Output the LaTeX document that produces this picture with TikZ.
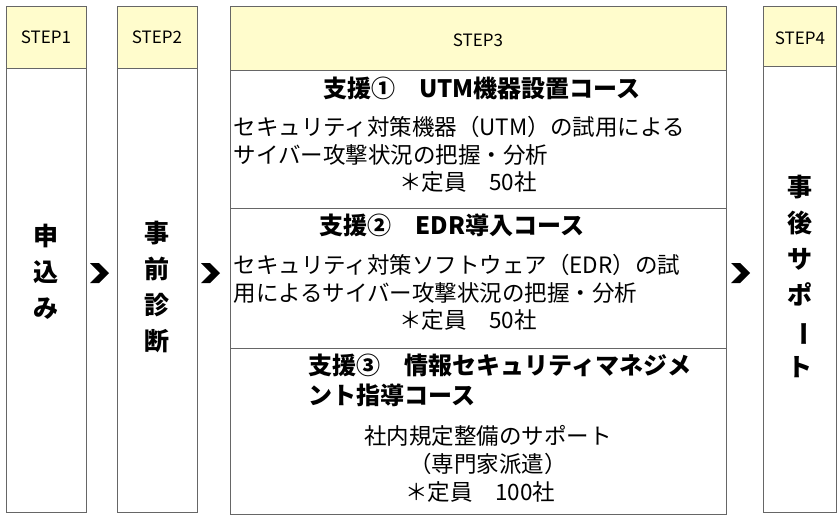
\documentclass[tikz,border=0pt]{standalone}
\usepackage{fontspec}
\usepackage{graphicx}
\setmainfont{Noto Sans CJK JP}
\begin{document}
\begin{tikzpicture}[x=1pt,y=-1pt,
  hdr/.style={draw=gray!80!black,fill=yellow!20,line width=0.8pt},
  bodybox/.style={draw=gray!80!black,fill=white,line width=0.8pt},
  steptxt/.style={font=\fontsize{17}{20}\selectfont},
  vtxt/.style={font=\fontsize{25}{36}\selectfont\bfseries,align=center},
  ttl/.style={font=\fontsize{24}{30}\selectfont\bfseries,align=left},
  txt/.style={font=\fontsize{22.5}{28}\selectfont,align=left},
  captxt/.style={font=\fontsize{22.5}{28}\selectfont,align=center},
  chev/.style={fill=black}]
\useasboundingbox (0,0) rectangle (840,522);
% STEP1
\draw[hdr] (6,6) rectangle (86,68); \node[steptxt] (h1) at (46,37) {STEP1};
\draw[bodybox] (6,68) rectangle (86,512);
\node[vtxt] (v1) at (46,272) {申\\込\\み};
% STEP2
\draw[hdr] (117,6) rectangle (197,68); \node[steptxt] (h2) at (157,37) {STEP2};
\draw[bodybox] (117,68) rectangle (197,512);
\node[vtxt] (v2) at (157,287) {事\\前\\診\\断};
% STEP3
\draw[hdr] (230,6) rectangle (726,70); \node[steptxt] (h3) at (478,40) {STEP3};
\draw[bodybox] (230,70) rectangle (726,208);
\draw[bodybox] (230,208) rectangle (726,348);
\draw[bodybox] (230,348) rectangle (726,514);
\node[ttl] (t1) at (482,88) {支援①\quad UTM機器設置コース};
\node[txt,anchor=west] (b1) at (230,141) {セキュリティ対策機器（UTM）の試用による\\サイバー攻撃状況の把握・分析};
\node[captxt] (c1) at (468,182) {＊定員\quad 50社};
\node[ttl] (t2) at (452,225) {支援②\quad EDR導入コース};
\node[txt,anchor=west] (b2) at (230,279) {セキュリティ対策ソフトウェア（EDR）の試\\用によるサイバー攻撃状況の把握・分析};
\node[captxt] (c2) at (468,320) {＊定員\quad 50社};
\node[ttl,anchor=west] (t3) at (305,380) {支援③\quad 情報セキュリティマネジメ\\ント指導コース};
\node[captxt] (b3) at (488,450) {社内規定整備のサポート\\（専門家派遣）};
\node[captxt] (c3) at (480,492) {＊定員\quad 100社};
% STEP4
\draw[hdr] (763,6) rectangle (836,66); \node[steptxt] (h4) at (800,38) {STEP4};
\draw[bodybox] (763,66) rectangle (836,512);
\node[vtxt] (v4) at (800,276) {事\\後\\サ\\ポ\\\rotatebox[origin=c]{-90}{ー}\\ト};
% chevrons
\foreach \x in {90,201,731}{
  \fill[chev] (\x,263) -- (\x+9,263) -- (\x+19,273) -- (\x+9,283) -- (\x,283) -- (\x+10,273) -- cycle;
}
\end{tikzpicture}
\end{document}
